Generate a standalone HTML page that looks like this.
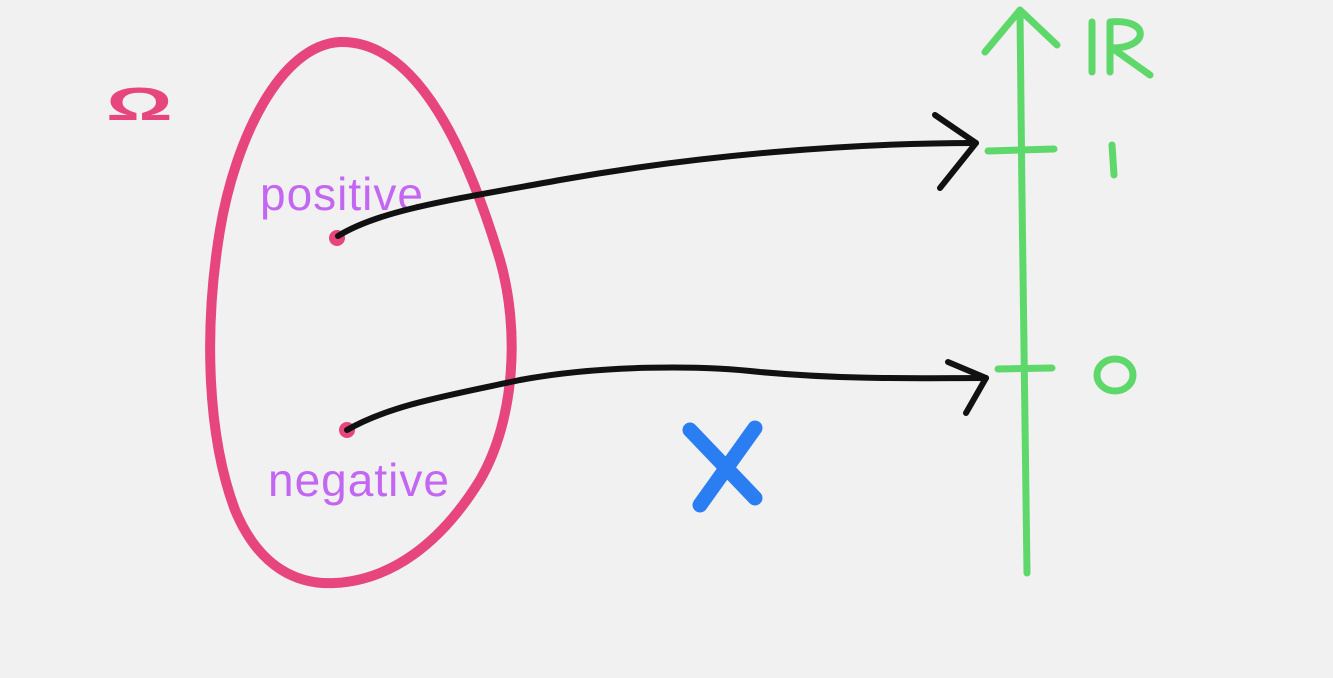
<!DOCTYPE html>
<html><head><meta charset="utf-8"><style>
html,body{margin:0;padding:0;background:#f1f1f1;}
svg{display:block}
text{font-family:"Liberation Sans",sans-serif}
</style></head><body>
<svg width="1333" height="678" viewBox="0 0 1333 678" xmlns="http://www.w3.org/2000/svg">
<rect width="1333" height="678" fill="#f1f1f1"/>
<!-- egg -->
<path d="M340,42 C280,45 235,140 220,230 C205,320 205,430 235,510 C260,570 300,585 335,583 C390,580 440,545 480,480 C515,420 520,330 500,260 C470,160 420,40 340,42 Z" fill="none" stroke="#e6457d" stroke-width="10" stroke-linecap="round"/>
<text x="0" y="0" font-size="52" fill="#e6457d" font-weight="bold" transform="translate(106,120) scale(1.6,0.9)">Ω</text>
<text x="260" y="210" font-size="46" fill="#c366f2" letter-spacing="1">positive</text>
<text x="268" y="496" font-size="46" fill="#c366f2" letter-spacing="1">negative</text>
<circle cx="337" cy="238" r="8" fill="#e6457d"/>
<circle cx="347" cy="430" r="8" fill="#e6457d"/>
<!-- black arrows -->
<g fill="none" stroke="#111" stroke-width="6" stroke-linecap="round" stroke-linejoin="round">
<path d="M338,236 C380,210 450,200 560,180 C700,155 850,143 976,143"/>
<path d="M935,115 L976,143 L940,188"/>
<path d="M347,430 C390,405 450,395 520,380 C600,365 700,365 760,372 C850,380 920,378 986,378"/>
<path d="M948,362 L986,378 L966,413"/>
</g>
<!-- green axis -->
<g fill="none" stroke="#5fd86b" stroke-width="7" stroke-linecap="round" stroke-linejoin="round">
<path d="M1020,12 C1022,200 1024,400 1027,573"/>
<path d="M985,52 L1020,10 L1057,45"/>
<path d="M988,151 L1054,149"/>
<path d="M998,369 L1052,368"/>
<path d="M1092,22 L1092,72"/>
<path d="M1110,72 L1110,22 C1150,18 1150,48 1112,48 L1150,75"/>
<path d="M1112,145 L1114,175"/>
<ellipse cx="1115" cy="375" rx="18" ry="16"/>
</g>
<!-- blue X -->
<g stroke="#2a7ef2" stroke-width="15" stroke-linecap="round">
<path d="M690,430 L755,498"/>
<path d="M755,428 L700,505"/>
</g>
</svg>
</body></html>
